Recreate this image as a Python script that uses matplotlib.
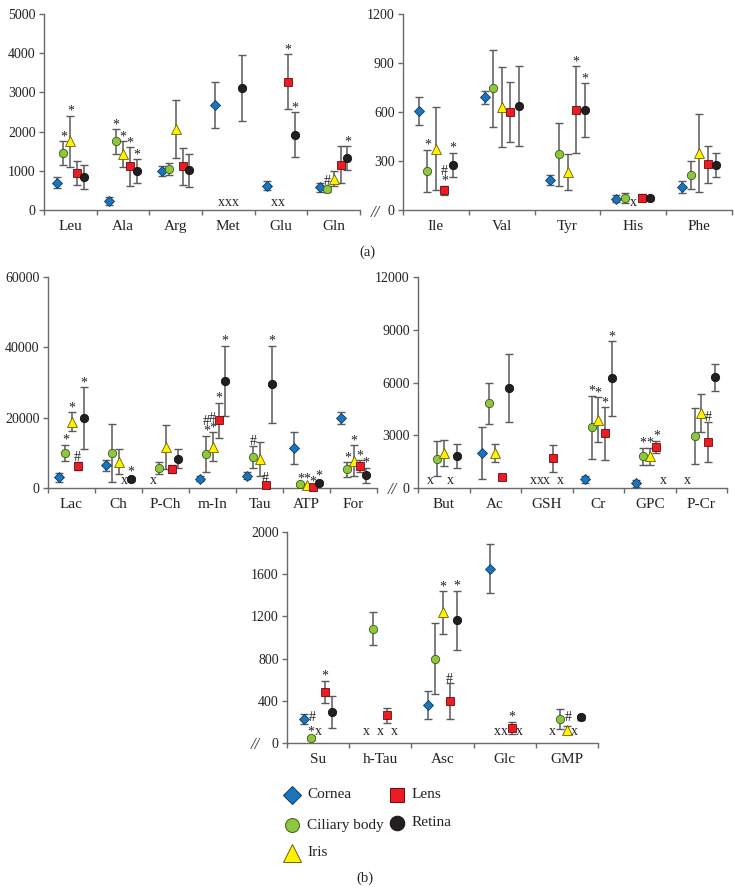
import numpy as np
import matplotlib
matplotlib.use('Agg')
import matplotlib.pyplot as plt
from matplotlib.ticker import FixedLocator, NullFormatter

plt.rcParams['font.family'] = ['Liberation Serif', 'DejaVu Serif']

nan = np.nan
tissues = ['Cornea', 'Ciliary body', 'Iris', 'Lens', 'Retina']

# ---------------- Panel (a) left ----------------
p1_categories = ['Leu', 'Ala', 'Arg', 'Met', 'Glu', 'Gln']
p1_means = [
    [700, 220, 1000, 2670, 620, 580],
    [1450, 1750, 1050, nan, nan, 530],
    [1750, 1420, 2070, nan, nan, 800],
    [950, 1110, 1120, nan, 3270, 1160],
    [840, 1000, 1010, 3110, 1920, 1320],
]
p1_errors = [
    [130, 100, 120, 590, 120, 120],
    [300, 310, 150, nan, nan, 80],
    [660, 330, 745, nan, nan, 200],
    [310, 490, 470, nan, 700, 480],
    [310, 300, 420, 835, 580, 300],
]
p1_marks = [
    ['', '', '', '', '', ''],
    ['*', '*', '', '', '', '#'],
    ['*', '*', '', '', '', ''],
    ['', '*', '', '', '*', ''],
    ['', '*', '', '', '*', '*'],
]
p1_yticks = [0, 1000, 2000, 3000, 4000, 5000]

# ---------------- Panel (a) right ----------------
p2_categories = ['Ile', 'Val', 'Tyr', 'His', 'Phe']
p2_means = [
    [605, 690, 185, 70, 140],
    [240, 745, 340, 75, 215],
    [375, 630, 230, nan, 350],
    [120, 600, 615, 75, 280],
    [275, 635, 610, 72, 275],
]
p2_errors = [
    [85, 38, 32, 20, 35],
    [130, 235, 195, 30, 85],
    [255, 245, 110, nan, 240],
    [30, 185, 265, 20, 112],
    [75, 245, 165, 8, 75],
]
p2_marks = [
    ['', '', '', '', ''],
    ['*', '', '', '', ''],
    ['', '', '', '', ''],
    ['#\n*', '', '*', '', ''],
    ['*', '', '*', '', ''],
]
p2_yticks = [0, 300, 600, 900, 1200]

# ---------------- Panel (b) left ----------------
p3_categories = ['Lac', 'Ch', 'P-Ch', 'm-In', 'Tau', 'ATP', 'For']
p3_means = [
    [3000, 6400, nan, 2650, 3500, 11400, 19900],
    [9950, 9950, 5700, 9700, 8900, 1000, 5300],
    [18900, 7500, 11700, 11800, 8250, 850, 7800],
    [6200, nan, 5400, 19200, 850, 300, 6300],
    [19900, 2600, 8300, 30500, 29500, 1550, 3600],
]
p3_errors = [
    [1400, 1650, nan, 800, 1000, 4600, 1600],
    [2300, 8300, 1700, 5200, 3100, 300, 2100],
    [2600, 3600, 6200, 4000, 4750, 300, 4400],
    [1200, nan, 1000, 5100, 500, 150, 1650],
    [8750, 600, 2700, 10000, 11000, 500, 2100],
]
p3_marks = [
    ['', '', '', '', '', '', ''],
    ['*', '', '', '#\n*', '#', '*', '*'],
    ['*', '', '', '#\n*', '', '*', '*'],
    ['#', '', '', '*', '#', '*', '*'],
    ['*', '*', '', '*', '*', '*', '*'],
]
p3_yticks = [0, 20000, 40000, 60000]

# ---------------- Panel (b) right ----------------
p4_categories = ['But', 'Ac', 'GSH', 'Cr', 'GPC', 'P-Cr']
p4_means = [
    [nan, 2000, nan, 500, 280, nan],
    [1660, 4820, nan, 3460, 1800, 2970],
    [2000, 1980, nan, 3880, 1800, 4250],
    [nan, 600, 1690, 3100, 2330, 2600],
    [1820, 5680, nan, 6230, nan, 6300],
]
p4_errors = [
    [nan, 1460, nan, 200, 200, nan],
    [990, 1180, nan, 1800, 500, 1600],
    [740, 500, nan, 1275, 480, 1090],
    [nan, 150, 780, 1490, 350, 1130],
    [690, 1940, nan, 2130, nan, 775],
]
p4_marks = [
    ['', '', '', '', '', ''],
    ['', '', '', '*', '*', ''],
    ['', '', '', '*', '*', ''],
    ['', '', '', '*', '*', '#'],
    ['', '', '', '*', '', ''],
]
p4_yticks = [0, 3000, 6000, 9000, 12000]

# ---------------- Panel (b) bottom ----------------
p5_categories = ['Su', 'h-Tau', 'Asc', 'Glc', 'GMP']
p5_means = [
    [227, nan, 362, 1650, nan],
    [47, 1083, 797, nan, 227],
    [nan, nan, 1237, nan, 126],
    [485, 261, 394, 142, nan],
    [296, nan, 1165, nan, 242],
]
p5_errors = [
    [47, nan, 130, 232, nan],
    [15, 155, 337, nan, 92],
    [nan, nan, 200, nan, 35],
    [105, 68, 170, 60, nan],
    [150, nan, 280, nan, 25],
]
p5_marks = [
    ['#', '', '', '', ''],
    ['*', '', '', '', '#'],
    ['', '', '*', '', ''],
    ['*', '', '#', '*', ''],
    ['', '', '*', '', ''],
]
p5_yticks = [0, 400, 800, 1200, 1600, 2000]

# ---------------- styles ----------------
styles = [
    dict(marker='D', ms=5.0, mfc='#1b75bb', mec='#0b3a66'),
    dict(marker='o', ms=6.0, mfc='#8dc63f', mec='#3d5a14'),
    dict(marker='^', ms=7.0, mfc='#fff200', mec='#6b6200'),
    dict(marker='s', ms=5.5, mfc='#ed1c24', mec='#6b0a0d'),
    dict(marker='o', ms=6.0, mfc='#231f20', mec='#111111'),
]
legend_ms = [9.0, 10.0, 12.5, 10.5, 10.5]

W, H = 735.0, 893.0
fig = plt.figure(figsize=(W / 100, H / 100), dpi=100)


def box(l, t, r, b):
    return [l / W, 1 - b / H, (r - l) / W, (b - t) / H]


AXC = '#6a6a6a'
ERRC = '#5a5a5a'
TXT = '#222222'


def draw_panel(rect, cats, means, errs, marks, yticks, spacing,
               xmark_off=1.0, brk=None, beside=()):
    ax = fig.add_axes(rect)
    n = len(cats)
    ax.set_xlim(0, n)
    ax.set_ylim(0, yticks[-1])
    for s in ['top', 'right']:
        ax.spines[s].set_visible(False)
    for s in ['left', 'bottom']:
        ax.spines[s].set_color(AXC)
        ax.spines[s].set_linewidth(1.0)
    ax.set_yticks(yticks)
    ax.set_yticklabels([str(v) for v in yticks], fontsize=10, color=TXT)
    ax.tick_params(axis='y', direction='out', length=3.5, width=1.0,
                   color=AXC, pad=2.5)
    ax.xaxis.set_major_locator(FixedLocator(np.arange(n + 1)))
    ax.xaxis.set_major_formatter(NullFormatter())
    ax.xaxis.set_minor_locator(FixedLocator(np.arange(n) + 0.5))
    ax.set_xticklabels(cats, minor=True, fontsize=11, color=TXT)
    ax.tick_params(axis='x', which='major', direction='out', length=3.5,
                   width=1.0, color=AXC)
    ax.tick_params(axis='x', which='minor', length=0, pad=7.5)
    for t in range(5):
        st = styles[t]
        for i in range(n):
            m = means[t][i]
            x = i + 0.5 + (t - 2) * spacing
            if np.isnan(m):
                ax.annotate('x', xy=(x, 0), xytext=(0, xmark_off),
                            textcoords='offset points', ha='center',
                            va='bottom', fontsize=10, color=TXT,
                            annotation_clip=False)
                continue
            e = errs[t][i]
            ax.errorbar([x], [m], yerr=[e], fmt='none', ecolor=ERRC,
                        elinewidth=1.1, capsize=2.6, capthick=1.0, zorder=2,
                        clip_on=False)
            ax.plot([x], [m], marker=st['marker'], ms=st['ms'],
                    mfc=st['mfc'], mec=st['mec'], mew=0.6, ls='none',
                    zorder=3, clip_on=False)
            s = marks[t][i]
            if s:
                if (t, i) in beside:
                    ax.annotate(s, xy=(x, m), xytext=(3.5, 1),
                                textcoords='offset points', ha='left',
                                va='center', fontsize=10, color=TXT,
                                annotation_clip=False)
                else:
                    ax.annotate(s, xy=(x, m + e), xytext=(0, -1.5),
                                textcoords='offset points', ha='center',
                                va='bottom', fontsize=10, color=TXT,
                                linespacing=0.7, annotation_clip=False)
    if brk is not None:
        ax.annotate('//', xy=(0, 0), xycoords='axes fraction',
                    xytext=(brk[0] * 0.72, -brk[1] * 0.72),
                    textcoords='offset points', ha='center', va='center',
                    fontsize=12, color='#333333', style='italic',
                    annotation_clip=False)
    return ax


draw_panel(box(44, 14, 360, 210), p1_categories, p1_means, p1_errors,
           p1_marks, p1_yticks, 0.13)
draw_panel(box(403, 14, 732, 210), p2_categories, p2_means, p2_errors,
           p2_marks, p2_yticks, 0.13, brk=(-28, 3))
draw_panel(box(48, 277, 377, 488), p3_categories, p3_means, p3_errors,
           p3_marks, p3_yticks, 0.13)
draw_panel(box(418, 277, 727, 488), p4_categories, p4_means, p4_errors,
           p4_marks, p4_yticks, 0.13, brk=(-26, 2))
draw_panel(box(287, 532, 598, 743), p5_categories, p5_means, p5_errors,
           p5_marks, p5_yticks, 0.115, xmark_off=3.5, brk=(-32, 2),
           beside={(0, 0), (1, 4)})

# overlay for legend and captions
ov = fig.add_axes([0, 0, 1, 1])
ov.set_xlim(0, W)
ov.set_ylim(H, 0)
ov.axis('off')
ov.text(367, 252, '(a)', fontsize=10.5, ha='center', va='center', color=TXT)
ov.text(365, 878, '(b)', fontsize=10.5, ha='center', va='center', color=TXT)

leg_pos = [(292, 795), (292, 825), (292, 853), (397, 795), (397, 823)]
for t, (lx, ly) in enumerate(leg_pos):
    st = styles[t]
    ov.plot([lx], [ly], marker=st['marker'], ms=legend_ms[t], mfc=st['mfc'],
            mec=st['mec'], mew=0.7, ls='none')
    ov.text(lx + 15, ly, tissues[t], fontsize=11, ha='left', va='center',
            color=TXT)

fig.savefig('out.png', dpi=100)
